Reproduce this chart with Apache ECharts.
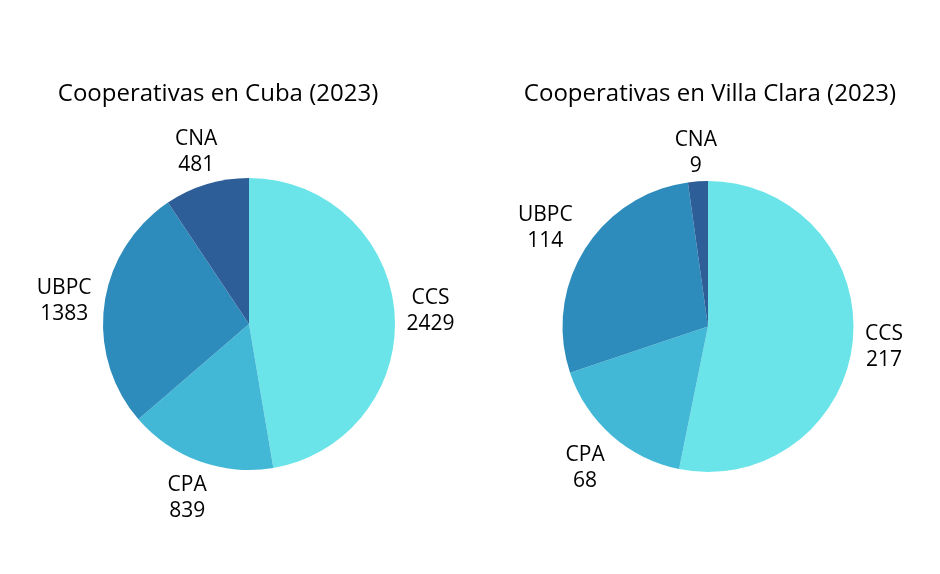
<!DOCTYPE html>
<html><head><meta charset="utf-8">
<script src="https://cdn.jsdelivr.net/npm/echarts@6/dist/echarts.min.js"></script>
<style>html,body{margin:0;padding:0;background:#fff}#c{width:940px;height:574px}</style>
</head><body><div id="c"></div>
<script>
const categories = ['CCS', 'CPA', 'UBPC', 'CNA'];
const cubaValues = [2429, 839, 1383, 481];
const villaClaraValues = [217, 68, 114, 9];
const titles = ['Cooperativas en Cuba (2023)', 'Cooperativas en Villa Clara (2023)'];
const colors = ['#6ae4e8', '#43b8d6', '#2e8cbc', '#2d5e98'];

const pies = [
  {values: cubaValues, cx: 249, cy: 324, r: 146},
  {values: villaClaraValues, cx: 708, cy: 326.5, r: 145.5}
];
const FONT = '"Open Sans", sans-serif';

function makeLayout(p) {
  const total = p.values.reduce((a, b) => a + b, 0);
  return function (params) {
    let acc = 0;
    for (let i = 0; i < params.dataIndex; i++) acc += p.values[i];
    const mid = (acc + p.values[params.dataIndex] / 2) / total * 2 * Math.PI;
    const dx = Math.sin(mid), dy = -Math.cos(mid);
    const w = params.labelRect.width, h = params.labelRect.height;
    const d = p.r + 3 + Math.abs(dx) * (w / 2 + 7) + Math.abs(dy) * h / 2;
    return {x: p.cx + dx * d, y: p.cy + dy * d + 2.5, align: 'center', verticalAlign: 'middle'};
  };
}

const chart = echarts.init(document.getElementById('c'));
chart.setOption({
  animation: false,
  color: colors,
  title: [
    {text: titles[0], left: 213, top: 89, textAlign: 'center', textVerticalAlign: 'middle',
     textStyle: {fontFamily: FONT, fontSize: 24, fontWeight: 'normal', color: '#000'}},
    {text: titles[1], left: 705, top: 89, textAlign: 'center', textVerticalAlign: 'middle',
     textStyle: {fontFamily: FONT, fontSize: 24, fontWeight: 'normal', color: '#000'}}
  ],
  series: pies.map((p, k) => ({
    type: 'pie',
    center: [p.cx, p.cy],
    radius: [0, p.r],
    startAngle: 90,
    clockwise: true,
    avoidLabelOverlap: false,
    label: {
      show: true, position: 'outside', formatter: '{b}\n{c}',
      fontFamily: FONT, fontSize: 21, lineHeight: 26, color: '#000'
    },
    labelLine: {show: false},
    labelLayout: makeLayout(p),
    itemStyle: {borderWidth: 0},
    emphasis: {disabled: true},
    data: categories.map((c, i) => ({name: c, value: p.values[i]}))
  }))
});
</script></body></html>
